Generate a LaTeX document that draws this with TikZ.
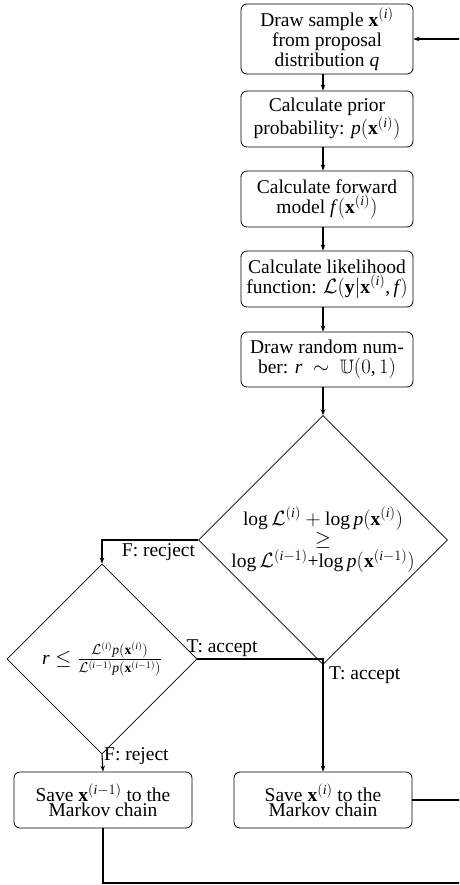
\documentclass[tikz,border=0pt]{standalone}
\usepackage{amssymb}
\usepackage{fontspec}
\setmainfont{Liberation Serif}
\newfontfamily\lserif[NFSSFamily=lserif]{Liberation Serif}
\DeclareSymbolFont{letters}{TU}{lserif}{m}{it}
\DeclareSymbolFont{operators}{TU}{lserif}{m}{n}
\DeclareMathSymbol{,}{\mathpunct}{operators}{`,}
\usetikzlibrary{shapes.geometric,arrows.meta}
\begin{document}
\begin{tikzpicture}[x=1pt,y=-1pt,
  every node/.style={font=\fontsize{19.5}{20}\selectfont},
  box/.style={draw,rounded corners=6pt,line width=0.8pt,minimum width=172pt,align=center,inner sep=0pt},
  dia/.style={draw,diamond,aspect=1,line width=0.7pt,inner sep=0pt,align=center},
  arr/.style={line width=1.1pt,-{Stealth[length=6pt,width=4.5pt]}},
  ln/.style={line width=1.1pt},
  lbl/.style={inner sep=1pt}]
\clip (0,0) rectangle (459,885);
\node[box,minimum height=70pt] (b1) at (327,39) {Draw sample $\mathbf{x}^{(i)}$\\from proposal\\distribution $q$};
\node[box,minimum height=56pt] (b2) at (327,119) {Calculate prior\\probability: $p(\mathbf{x}^{(i)})$};
\node[box,minimum height=56pt] (b3) at (327,199) {Calculate forward\\model $f\mkern2mu(\mathbf{x}^{(i)})$};
\node[box,minimum height=56pt] (b4) at (327,279) {Calculate likelihood\\function: $\mathcal{L}(\mathbf{y}|\mathbf{x}^{(i)},f\mkern1mu)$};
\node[box,minimum height=55pt] (b5) at (327,359.5) {Draw random num-\\ber: $r\ \sim\ \mathbb{U}(0,1)$};
\node[dia,minimum size=246pt] (dm) at (323,540) {$\log\mathcal{L}^{(i)}+\log p(\mathbf{x}^{(i)})$\\$\geq$\\$\log\mathcal{L}^{(i-1)}$+$\log p(\mathbf{x}^{(i-1)})$};
\node[dia,minimum size=190pt] (ds) at (102,659) {$r\le\frac{\mathcal{L}^{(i)}p(\mathbf{x}^{(i)})}{\mathcal{L}^{(i-1)}p(\mathbf{x}^{(i-1)})}$};
\node[box,minimum width=178pt,minimum height=56pt,font=\fontsize{19.5}{15}\selectfont] (b6) at (103,800) {Save $\mathbf{x}^{(i-1)}$ to the\\Markov chain};
\node[box,minimum width=178pt,minimum height=56pt,font=\fontsize{19.5}{15}\selectfont] (b7) at (323,800) {Save $\mathbf{x}^{(i)}$ to the\\Markov chain};
\coordinate (lp) at (475,883);
\draw[arr] (b1.south -| dm.north) -- (b2.north -| dm.north);
\draw[arr] (b2.south -| dm.north) -- (b3.north -| dm.north);
\draw[arr] (b3.south -| dm.north) -- (b4.north -| dm.north);
\draw[arr] (b4.south -| dm.north) -- (b5.north -| dm.north);
\draw[arr] (b5.south -| dm.north) -- (dm.north);
\draw[arr] (dm.west) -| (ds.north);
\node[lbl,anchor=north east] (lf) at ([xshift=-2pt,yshift=-2pt]dm.west) {F: recject};
\draw[ln] (ds.east) -- (ds.east -| dm.south) -- (dm.south);
\node[lbl,anchor=south west] (lt1) at ([xshift=-12pt,yshift=1pt]ds.east) {T: accept};
\draw[arr] (dm.south) -- (b7.north);
\node[lbl,anchor=north west] (lt2) at ([xshift=5pt,yshift=-1pt]dm.south) {T: accept};
\draw[arr] (ds.south) -- (b6.north);
\node[lbl,anchor=west] (lf2) at ([xshift=1pt,yshift=-2pt]ds.south) {F: reject};
\draw[arr] (b6.south) |- (lp) |- (b1.east);
\draw[ln] (b7.east) -- (b7.east -| lp);
\end{tikzpicture}
\end{document}
